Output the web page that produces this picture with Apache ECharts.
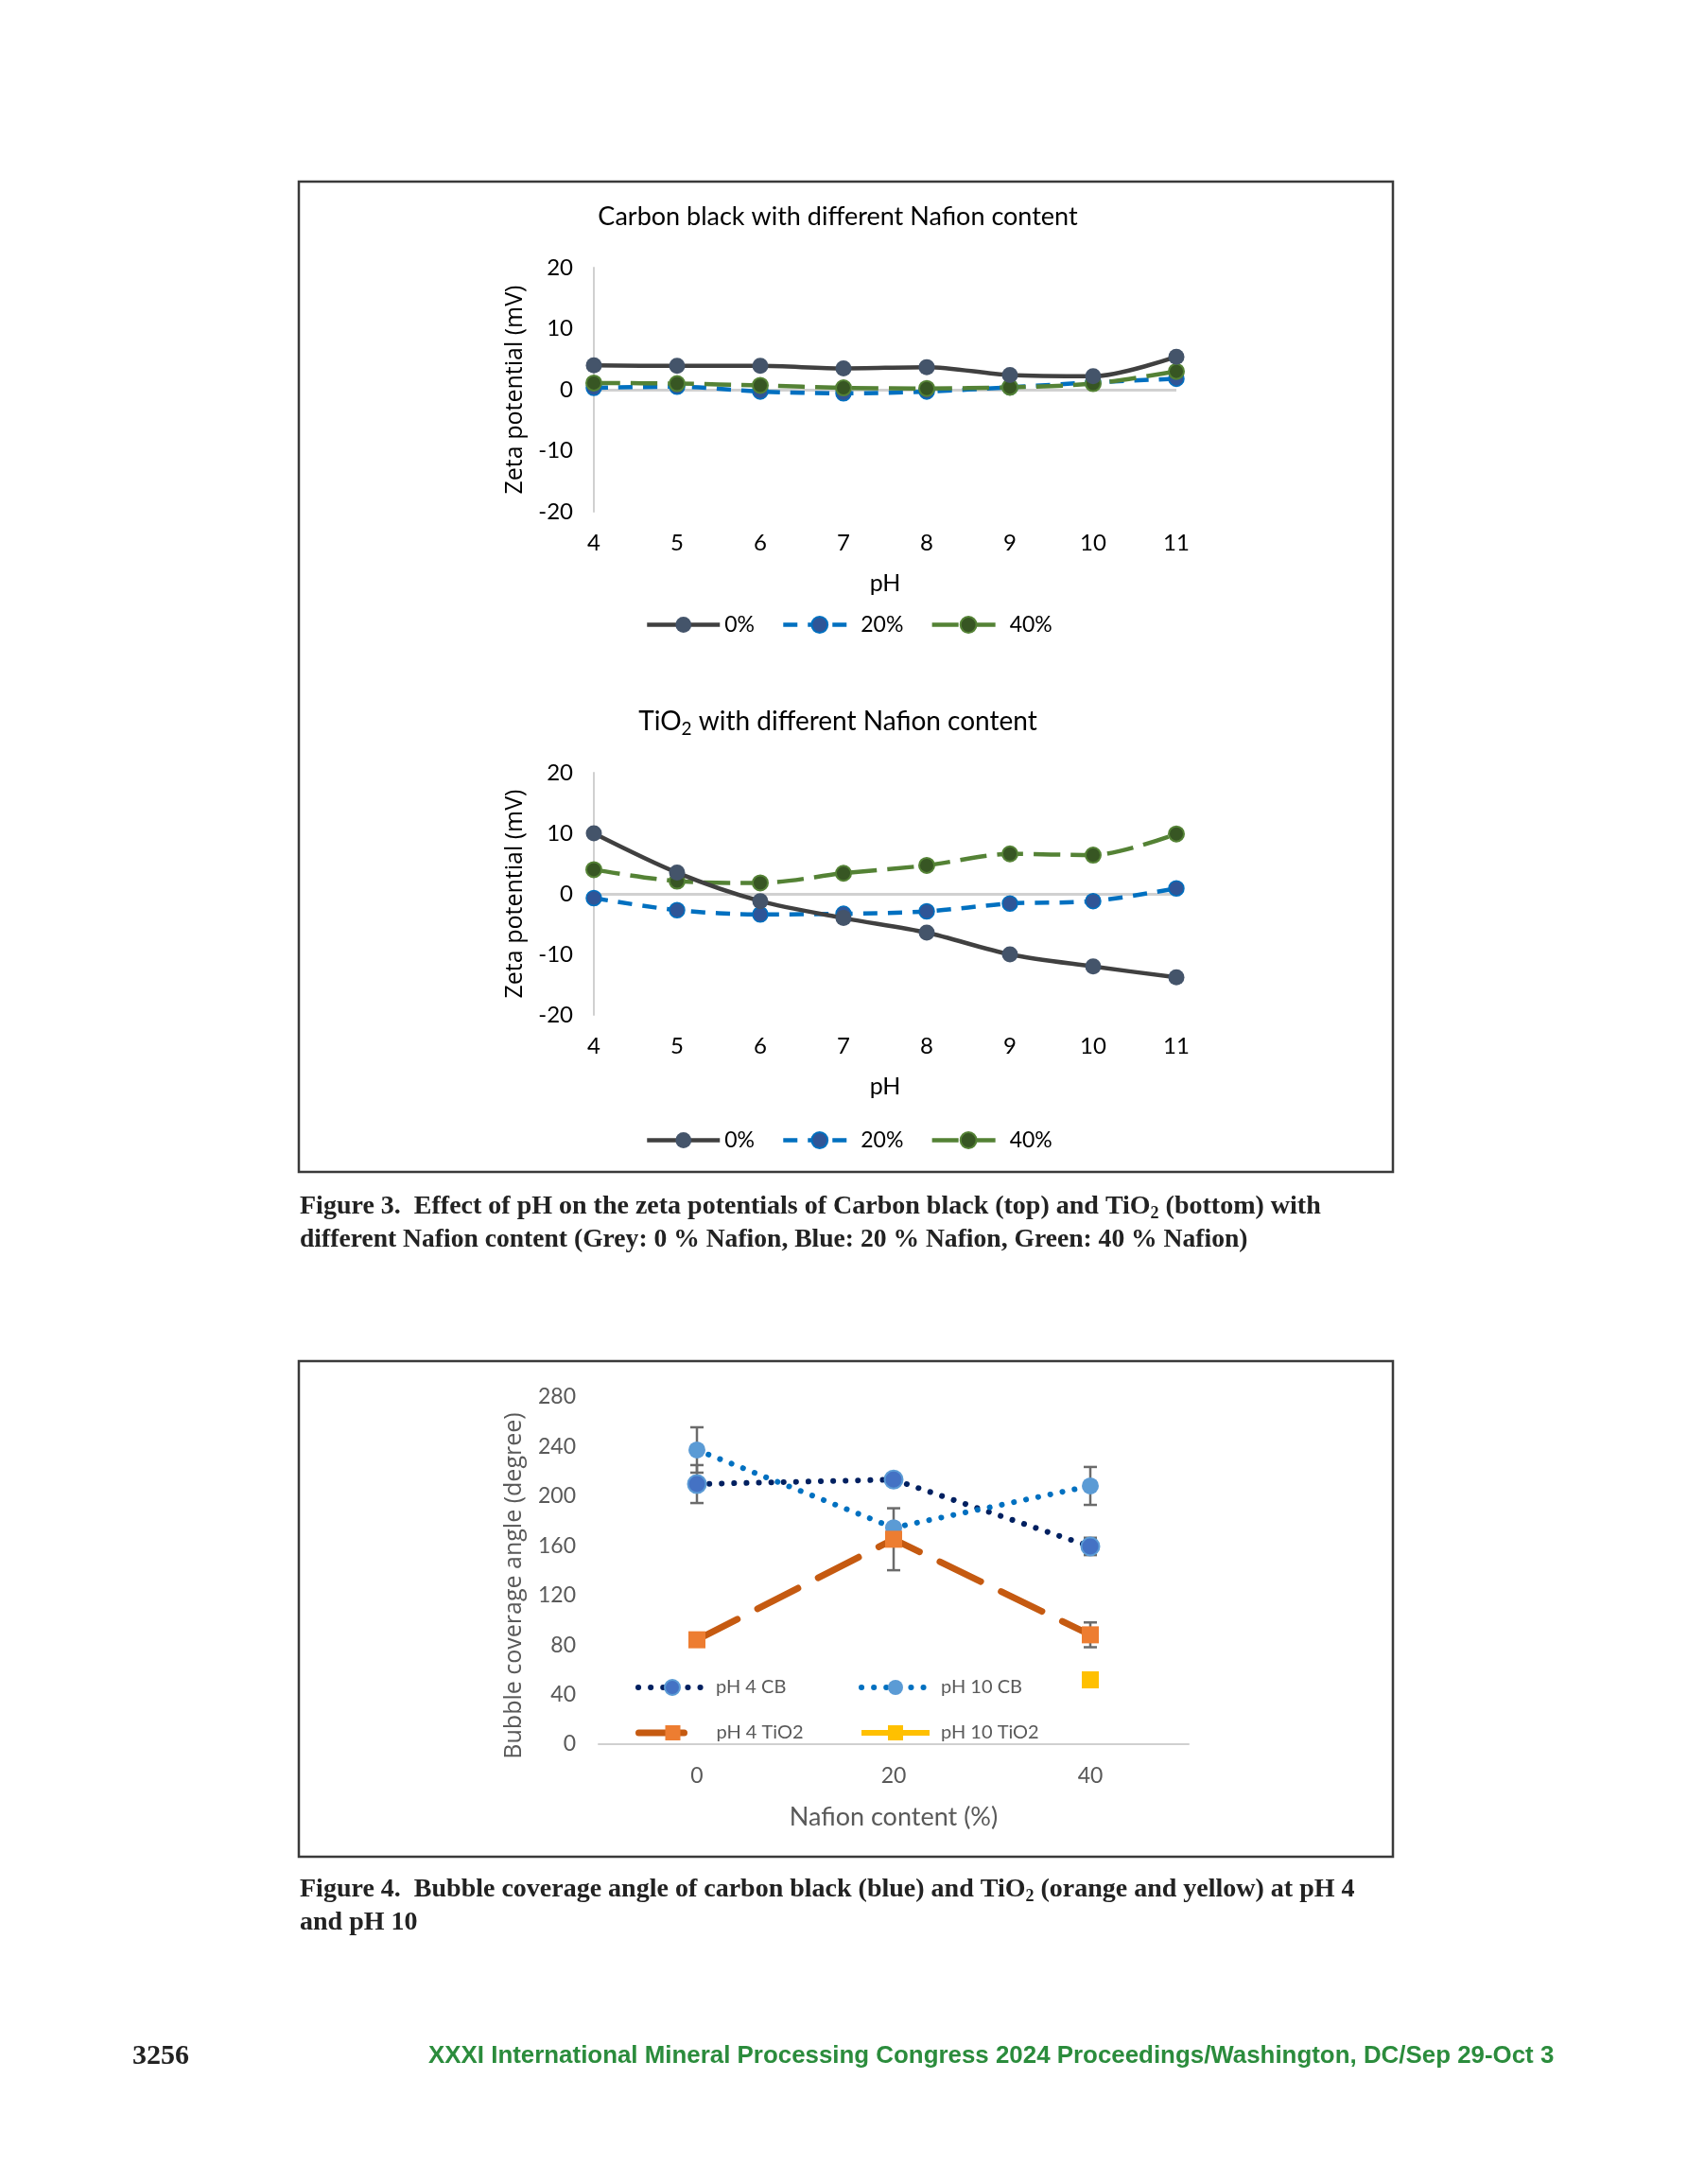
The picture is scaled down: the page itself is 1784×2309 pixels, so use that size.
<!DOCTYPE html>
<html><head><meta charset="utf-8">
<script src="https://cdn.jsdelivr.net/npm/echarts@6/dist/echarts.min.js"></script>
<style>html,body{margin:0;padding:0;background:#fff}#c{width:1784px;height:2309px}</style>
</head><body><div id="c"></div>
<script>
// ---- data ----
const pH = ['4', '5', '6', '7', '8', '9', '10', '11'];
const cb0 = [4.0, 3.9, 3.9, 3.5, 3.7, 2.4, 2.2, 5.4];
const cb20 = [0.3, 0.5, -0.3, -0.6, -0.3, 0.4, 1.2, 1.8];
const cb40 = [1.1, 1.0, 0.7, 0.3, 0.2, 0.4, 1.0, 3.0];
const ti0 = [10.0, 3.5, -1.2, -4.0, -6.4, -10.0, -12.0, -13.8];
const ti20 = [-0.7, -2.7, -3.4, -3.3, -2.9, -1.6, -1.2, 0.9];
const ti40 = [4.0, 2.1, 1.8, 3.4, 4.7, 6.6, 6.4, 9.9];
const zetaTicks = [-20, 20, 10];
const nafion = ['0', '20', '40'];
const ph4cb = [209.8, 213.4, 159.5];
const ph4cbErr = [15.3, 3, 7];
const ph10cb = [237.3, 174.6, 208.3];
const ph10cbErr = [18.3, 3, 15.3];
const ph4ti = [84.2, 165.3, 88.2];
const ph4tiErr = [3, 25, 10];
const ph10ti = [null, null, 51.9];
const angleTicks = [0, 280, 40];

const LATO = 'Lato';
const chart = echarts.init(document.getElementById('c'), null, {renderer: 'canvas'});

function errData(vals, errs) {
  return vals.map((v, i) => [i, v, errs[i]]);
}
function errRender(params, api) {
  const x = api.value(0), y = api.value(1), e = api.value(2);
  const t = api.coord([x, y + e]), b = api.coord([x, y - e]);
  const w = 7;
  const st = {stroke: '#6b6b6b', lineWidth: 2.5};
  return {type: 'group', children: [
    {type: 'line', shape: {x1: t[0], y1: t[1], x2: b[0], y2: b[1]}, style: st},
    {type: 'line', shape: {x1: t[0] - w, y1: t[1], x2: t[0] + w, y2: t[1]}, style: st},
    {type: 'line', shape: {x1: b[0] - w, y1: b[1], x2: b[0] + w, y2: b[1]}, style: st}
  ]};
}

function zetaX(gi) {
  return {type: 'category', gridIndex: gi, data: pH, boundaryGap: false,
    axisLine: {show: false}, axisTick: {show: false},
    axisLabel: {fontFamily: LATO, fontSize: 24, color: '#000', margin: 21},
    name: 'pH', nameLocation: 'middle', nameGap: 63,
    nameTextStyle: {fontFamily: LATO, fontSize: 25, color: '#000'}};
}
function zetaY(gi) {
  return {type: 'value', gridIndex: gi, min: zetaTicks[0], max: zetaTicks[1], interval: zetaTicks[2],
    axisLine: {show: true, lineStyle: {color: '#D0D0D0', width: 2}}, axisTick: {show: false},
    splitLine: {show: false},
    axisLabel: {fontFamily: LATO, fontSize: 24, color: '#000', margin: 22},
    name: 'Zeta potential (mV)', nameLocation: 'middle', nameGap: 71,
    nameTextStyle: {fontFamily: 'Open Sans', fontSize: 25, color: '#000'}};
}
function zetaSeries(gi, d0, d20, d40) {
  return [
    {name: '0%', type: 'line', xAxisIndex: gi, yAxisIndex: gi, data: d0, smooth: 0.3,
      symbol: 'circle', symbolSize: 17,
      itemStyle: {color: '#44546A'}, lineStyle: {color: '#404040', width: 4.5}, z: 4,
      markLine: {silent: true, symbol: 'none', label: {show: false},
        lineStyle: {color: '#D0D0D0', width: 3, type: 'solid'}, data: [{yAxis: 0}], z: 1}},
    {name: '20%', type: 'line', xAxisIndex: gi, yAxisIndex: gi, data: d20, smooth: 0.3,
      symbol: 'circle', symbolSize: 16,
      itemStyle: {color: '#2F5597', borderColor: '#0070C0', borderWidth: 1.5},
      lineStyle: {color: '#0070C0', width: 4.5, type: [15, 11]}, z: 3},
    {name: '40%', type: 'line', xAxisIndex: gi, yAxisIndex: gi, data: d40, smooth: 0.3,
      symbol: 'circle', symbolSize: 16,
      itemStyle: {color: '#375623', borderColor: '#548235', borderWidth: 2},
      lineStyle: {color: '#548235', width: 4.5, type: [28, 11]}, z: 3}
  ];
}
function zetaLegend(top) {
  return {data: ['0%', '20%', '40%'], left: 682, top: top, padding: 0,
    itemWidth: 77, itemHeight: 21, itemGap: 28,
    lineStyle: {width: 4.5},
    textStyle: {fontFamily: LATO, fontSize: 23, color: '#000'}};
}
function smallLegend(name, left, top, lw, pad) {
  return {data: [name], left: left, top: top, padding: 0, itemWidth: 72, itemHeight: 20,
    lineStyle: {width: lw},
    textStyle: {fontFamily: LATO, fontSize: 20, color: '#595959', padding: [0, 0, 0, pad]}};
}

const option = {
  backgroundColor: '#fff',
  animation: false,
  grid: [
    {left: 628, top: 283, width: 616, height: 258},
    {left: 628, top: 817, width: 616, height: 256},
    {left: 633, top: 1477, width: 624, height: 367}
  ],
  xAxis: [zetaX(0), zetaX(1),
    {type: 'category', gridIndex: 2, data: nafion, boundaryGap: true,
      axisLine: {show: true, lineStyle: {color: '#D0D0D0', width: 2}}, axisTick: {show: false},
      axisLabel: {fontFamily: LATO, fontSize: 23, color: '#595959', margin: 22},
      name: 'Nafion content (%)', nameLocation: 'middle', nameGap: 64,
      nameTextStyle: {fontFamily: LATO, fontSize: 27, color: '#595959'}}],
  yAxis: [zetaY(0), zetaY(1),
    {type: 'value', gridIndex: 2, min: angleTicks[0], max: angleTicks[1], interval: angleTicks[2],
      axisLine: {show: false}, axisTick: {show: false}, splitLine: {show: false},
      axisLabel: {fontFamily: LATO, fontSize: 23, color: '#595959', margin: 24},
      name: 'Bubble coverage angle (degree)', nameLocation: 'middle', nameGap: 77,
      nameTextStyle: {fontFamily: 'Open Sans', fontSize: 25, color: '#595959', padding: [0, 32, 0, 0]}}],
  legend: [
    zetaLegend(649), zetaLegend(1194),
    smallLegend('pH 4 CB', 672, 1774, 6, 5), smallLegend('pH 10 CB', 908, 1774, 6, 7),
    smallLegend('pH 4 TiO2', 672, 1822, 7, 5), smallLegend('pH 10 TiO2', 908, 1822, 6, 7)
  ],
  series: [
    ...zetaSeries(0, cb0, cb20, cb40),
    ...zetaSeries(1, ti0, ti20, ti40),
    {type: 'custom', name: 'err1', xAxisIndex: 2, yAxisIndex: 2, data: errData(ph4cb, ph4cbErr), renderItem: errRender, z: 1},
    {type: 'custom', name: 'err2', xAxisIndex: 2, yAxisIndex: 2, data: errData(ph10cb, ph10cbErr), renderItem: errRender, z: 1},
    {type: 'custom', name: 'err3', xAxisIndex: 2, yAxisIndex: 2, data: errData(ph4ti, ph4tiErr), renderItem: errRender, z: 1},
    {name: 'pH 4 CB', type: 'line', xAxisIndex: 2, yAxisIndex: 2, data: ph4cb,
      symbol: 'circle', symbolSize: 19, itemStyle: {color: '#4472C4', borderColor: '#5B9BD5', borderWidth: 2},
      lineStyle: {color: '#002060', width: 6, type: [0.1, 13], cap: 'round'}, z: 3},
    {name: 'pH 10 CB', type: 'line', xAxisIndex: 2, yAxisIndex: 2, data: ph10cb,
      symbol: 'circle', symbolSize: 18, itemStyle: {color: '#5B9BD5'},
      lineStyle: {color: '#0070C0', width: 6, type: [0.1, 13], cap: 'round'}, z: 3},
    {name: 'pH 4 TiO2', type: 'line', xAxisIndex: 2, yAxisIndex: 2, data: ph4ti,
      symbol: 'rect', symbolSize: 18, itemStyle: {color: '#ED7D31'},
      lineStyle: {color: '#C55A11', width: 7, type: [48, 24], cap: 'round'}, z: 4},
    {name: 'pH 10 TiO2', type: 'line', xAxisIndex: 2, yAxisIndex: 2, data: ph10ti,
      symbol: 'rect', symbolSize: 18, itemStyle: {color: '#FFC000'},
      lineStyle: {color: '#FFC000', width: 6}, z: 4}
  ],
  graphic: [
    {type: 'rect', shape: {x: 316, y: 192, width: 1157, height: 1047}, style: {fill: 'none', stroke: '#3a3a3a', lineWidth: 2.5}, z: 0},
    {type: 'rect', shape: {x: 316, y: 1439, width: 1157, height: 524}, style: {fill: 'none', stroke: '#3a3a3a', lineWidth: 2.5}, z: 0},
    {type: 'text', x: 886, y: 229, style: {text: 'Carbon black with different Nafion content', fontFamily: LATO, fontSize: 27, fill: '#000', align: 'center', verticalAlign: 'middle'}},
    {type: 'text', x: 886, y: 763, style: {text: '{a|TiO}{s|2}{a| with different Nafion content}', align: 'center', verticalAlign: 'middle',
      rich: {a: {fontFamily: LATO, fontSize: 28, fill: '#000', lineHeight: 35}, s: {fontFamily: LATO, fontSize: 19, fill: '#000', lineHeight: 16, verticalAlign: 'bottom'}}}},
    {type: 'text', x: 317, y: 1276, style: {text: '{a|Figure 3.  Effect of pH on the zeta potentials of Carbon black (top) and TiO}{s|2}{a| (bottom) with}', verticalAlign: 'middle',
      rich: {a: {fontFamily: 'Liberation Serif', fontWeight: 'bold', fontSize: 28, fill: '#222', lineHeight: 33}, s: {fontFamily: 'Liberation Serif', fontWeight: 'bold', fontSize: 18, fill: '#222', lineHeight: 15, verticalAlign: 'bottom'}}}},
    {type: 'text', x: 317, y: 1311, style: {text: 'different Nafion content (Grey: 0 % Nafion, Blue: 20 % Nafion, Green: 40 % Nafion)', fontFamily: 'Liberation Serif', fontWeight: 'bold', fontSize: 27.6, fill: '#222', verticalAlign: 'middle'}},
    {type: 'text', x: 317, y: 1998, style: {text: '{a|Figure 4.  Bubble coverage angle of carbon black (blue) and TiO}{s|2}{a| (orange and yellow) at pH 4}', verticalAlign: 'middle',
      rich: {a: {fontFamily: 'Liberation Serif', fontWeight: 'bold', fontSize: 28, fill: '#222', lineHeight: 33}, s: {fontFamily: 'Liberation Serif', fontWeight: 'bold', fontSize: 18, fill: '#222', lineHeight: 15, verticalAlign: 'bottom'}}}},
    {type: 'text', x: 317, y: 2033, style: {text: 'and pH 10', fontFamily: 'Liberation Serif', fontWeight: 'bold', fontSize: 28, fill: '#222', verticalAlign: 'middle'}},
    {type: 'text', x: 140, y: 2174, style: {text: '3256', fontFamily: 'Liberation Serif', fontWeight: 'bold', fontSize: 30, fill: '#222', verticalAlign: 'middle'}},
    {type: 'text', x: 453, y: 2174, style: {text: 'XXXI International Mineral Processing Congress 2024 Proceedings/Washington, DC/Sep 29-Oct 3', fontFamily: 'Liberation Sans', fontWeight: 'bold', fontSize: 25.9, fill: '#2B8C3C', verticalAlign: 'middle'}}
  ]
};
chart.setOption(option);
</script>
</body></html>
